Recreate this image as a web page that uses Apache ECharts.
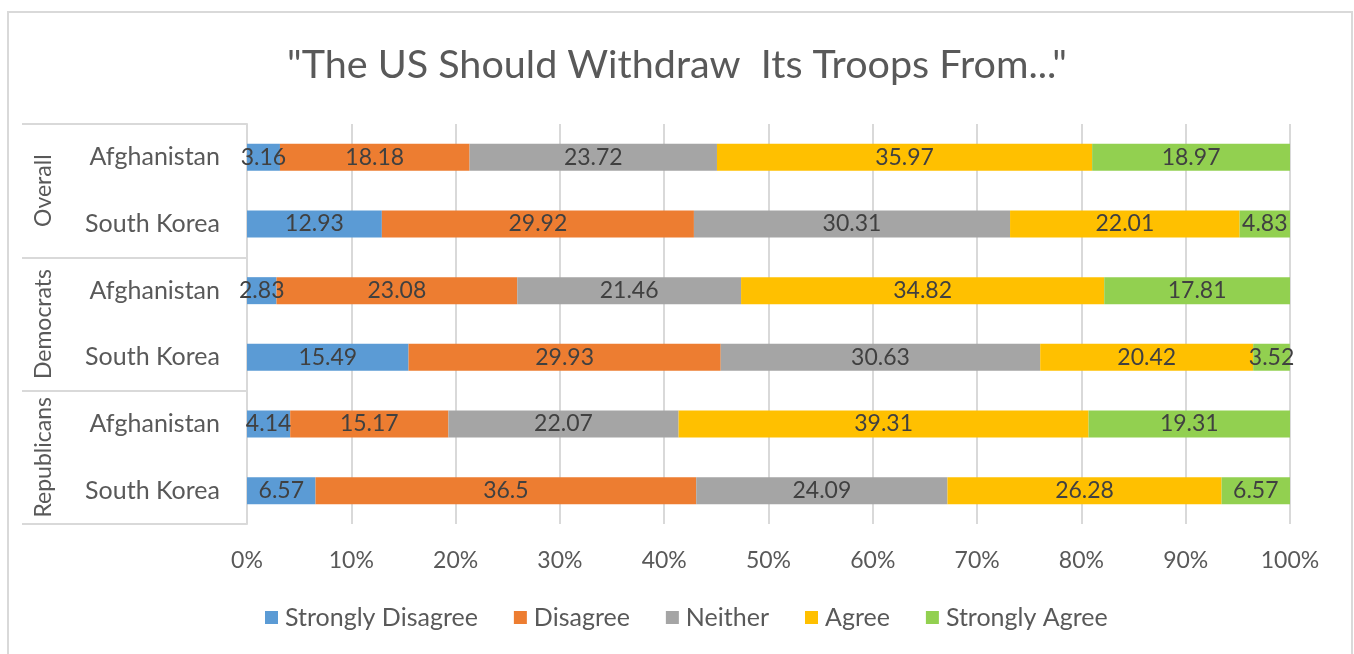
<!DOCTYPE html>
<html>
<head>
<meta charset="utf-8">
<script src="https://cdn.jsdelivr.net/npm/echarts@6/dist/echarts.min.js"></script>
<style>
html,body{margin:0;padding:0;background:#fff;}
#chart{width:1354px;height:654px;}
</style>
</head>
<body>
<div id="chart"></div>
<script>
const title = '"The US Should Withdraw  Its Troops From..."';
const categories = ['Afghanistan', 'South Korea', 'Afghanistan', 'South Korea', 'Afghanistan', 'South Korea'];
const groups = ['Overall', 'Democrats', 'Republicans'];
const seriesNames = ['Strongly Disagree', 'Disagree', 'Neither', 'Agree', 'Strongly Agree'];
const stronglyDisagree = [3.16, 12.93, 2.83, 15.49, 4.14, 6.57];
const disagree = [18.18, 29.92, 23.08, 29.93, 15.17, 36.5];
const neither = [23.72, 30.31, 21.46, 30.63, 22.07, 24.09];
const agree = [35.97, 22.01, 34.82, 20.42, 39.31, 26.28];
const stronglyAgree = [18.97, 4.83, 17.81, 3.52, 19.31, 6.57];
const colors = ['#5B9BD5', '#ED7D31', '#A5A5A5', '#FFC000', '#92D050'];

const FONT = 'Lato, "Open Sans", sans-serif';
const seriesData = [stronglyDisagree, disagree, neither, agree, stronglyAgree];

const chart = echarts.init(document.getElementById('chart'));
chart.setOption({
  animation: false,
  backgroundColor: '#fff',
  color: colors,
  textStyle: { fontFamily: FONT },
  title: {
    text: title,
    left: 'center',
    top: 40,
    textStyle: { fontFamily: FONT, fontSize: 39.5, fontWeight: 'normal', color: '#595959' }
  },
  graphic: [{
    type: 'rect',
    shape: { x: 8, y: 12, width: 1344, height: 660 },
    style: { fill: 'none', stroke: '#d9d9d9', lineWidth: 2 },
    silent: true
  }],
  legend: {
    bottom: 19,
    left: 260,
    itemWidth: 13,
    itemHeight: 13,
    itemGap: 36,
    icon: 'rect',
    textStyle: { fontFamily: FONT, fontSize: 25, color: '#595959', padding: [0, 0, 0, 2] },
    data: seriesNames
  },
  grid: { left: 247, right: 64, top: 124, bottom: 130, containLabel: false },
  xAxis: {
    type: 'value',
    min: 0, max: 100, interval: 10,
    axisLine: { show: false },
    axisTick: { show: false },
    splitLine: { show: true, lineStyle: { color: '#d9d9d9', width: 2 } },
    axisLabel: { formatter: '{value}%', fontFamily: FONT, fontSize: 23, color: '#595959', margin: 25 }
  },
  yAxis: [{
    type: 'category',
    data: categories,
    inverse: true,
    axisLine: { show: true, lineStyle: { color: '#d9d9d9', width: 2 } },
    axisTick: { show: false },
    axisLabel: { fontFamily: FONT, fontSize: 25, color: '#595959', margin: 27, interval: 0 }
  }, {
    type: 'category',
    data: groups,
    inverse: true,
    position: 'left',
    axisLine: { show: false },
    axisTick: { show: true, interval: 0, length: 225, lineStyle: { color: '#d9d9d9', width: 2 } },
    axisLabel: { fontFamily: FONT, fontSize: 23, color: '#595959', rotate: 90, margin: 192, interval: 0 }
  }],
  series: seriesData.map((d, i) => ({
    name: seriesNames[i],
    type: 'bar',
    stack: 'total',
    yAxisIndex: 0,
    barWidth: 27,
    data: d,
    label: {
      show: true,
      position: 'inside',
      fontFamily: FONT,
      fontSize: 23,
      color: '#404040',
      formatter: p => String(p.value)
    }
  }))
});
</script>
</body>
</html>
